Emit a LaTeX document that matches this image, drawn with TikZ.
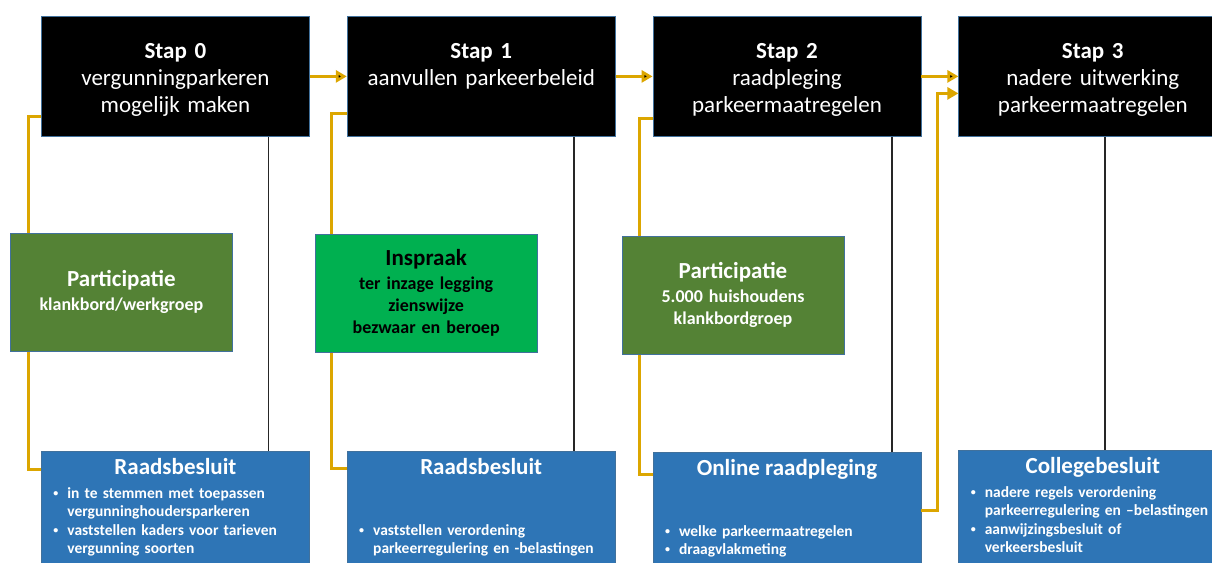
\documentclass[tikz,border=0pt]{standalone}
\usepackage{fontspec}
\setmainfont{Carlito}
\usetikzlibrary{positioning,arrows.meta}

\definecolor{goud}{HTML}{DCA600}
\definecolor{rand}{HTML}{41719C}
\definecolor{olijf}{HTML}{548235}
\definecolor{groen}{HTML}{00B050}
\definecolor{blauw}{HTML}{2E75B6}

\newcommand{\kop}[1]{{\centering\fontsize{11.5}{13.8}\selectfont #1\par}\vspace{2.8pt}}
\newcommand{\punt}{\par\hspace*{6pt}\makebox[7pt][l]{\raisebox{0.9pt}{\fontsize{5}{5}\selectfont •}}}
\newcommand{\verder}{\par\hspace*{13pt}}

\begin{document}
\begin{tikzpicture}[x=0.5pt, y=-0.5pt, node distance=18.5pt]
\tikzstyle{stap}=[rectangle, draw=rand, line width=0.4pt, fill=black, text=white, text width=134pt, inner sep=0pt, align=center, text height=21pt, text depth=39pt, font=\fontsize{11.5}{13.5}\selectfont]
\tikzstyle{deel}=[rectangle, draw=rand, line width=0.4pt, fill=olijf, text=white, text width=111pt, minimum height=59pt, inner sep=0pt, align=center, font=\fontsize{9}{11}\selectfont\bfseries]
\tikzstyle{besluit}=[rectangle, draw=rand, line width=0.4pt, fill=blauw, text=white, text width=134pt, inner sep=0pt, align=left, text height=11.5pt, text depth=80pt, font=\fontsize{7.75}{9.2}\selectfont\bfseries]
\tikzstyle{pijl}=[draw=goud, line width=1.5pt, -{Triangle[length=5.5pt,width=6pt]}]
\tikzstyle{lijn}=[draw=goud, line width=1.5pt]
\tikzstyle{zwart}=[draw=black!85, line width=0.8pt]
\useasboundingbox (0,0) rectangle (1212,563);
\clip (0,0) rectangle (1212,563);
   \node[stap, anchor=north west](s0) at (41,16){\textbf{Stap 0}\\vergunningparkeren\\mogelijk maken};
   \node[stap](s1)[right=of s0]{\textbf{Stap 1}\\aanvullen parkeerbeleid};
   \node[stap](s2)[right=of s1]{\textbf{Stap 2}\\raadpleging\\parkeermaatregelen};
   \node[stap](s3)[right=of s2]{\textbf{Stap 3}\\nadere uitwerking\\parkeermaatregelen};
\node[deel](p0)[below right=48pt and -15.5pt of s0.south west]{{\fontsize{11.5}{13}\selectfont Participatie}\\[1pt]klankbord/werkgroep};
\node[deel, fill=groen, text=black](i1)[below right=48.5pt and -16pt of s1.south west]{{\fontsize{11.5}{13}\selectfont Inspraak}\\[1pt]ter inzage legging\\zienswijze\\bezwaar en beroep};
\node[deel](p2)[below right=49.5pt and -15.5pt of s2.south west]{{\fontsize{11.5}{13}\selectfont Participatie}\\[1pt]5.000 huishoudens\\klankbordgroep};
\node[besluit](r0)[below=157pt of s0]{\kop{Raadsbesluit}\punt in te stemmen met toepassen\verder vergunninghoudersparkeren\punt vaststellen kaders voor tarieven\verder vergunning soorten};
\node[besluit](r1)[below=157pt of s1]{\kop{Raadsbesluit}\vspace{18.5pt}\punt vaststellen verordening\verder parkeerregulering en -belastingen};
\node[besluit](o2)[below=157.5pt of s2]{\kop{Online raadpleging}\vspace{18.5pt}\punt welke parkeermaatregelen\punt draagvlakmeting};
\node[besluit](c3)[below=156.5pt of s3]{\kop{Collegebesluit}\punt nadere regels verordening\verder parkeerregulering en –belastingen\punt aanwijzingsbesluit of\verder verkeersbesluit};
   \path[pijl](s0) edge (s1);
   \path[pijl](s1) edge (s2);
   \path[pijl](s2) edge (s3);
\draw[pijl]([yshift=-29.5pt]o2.north east) -- ++(8pt,0) |- ([yshift=-8.5pt]s3.west);
\draw[lijn]([yshift=10pt]s0.south west) -| ([xshift=9pt]p0.north west);
\draw[lijn]([xshift=9pt]p0.south west) |- ([yshift=-9.5pt]r0.north west);
\draw[lijn]([yshift=11.5pt]s1.south west) -| ([xshift=8.5pt]i1.north west);
\draw[lijn]([xshift=8.5pt]i1.south west) |- ([yshift=-9pt]r1.north west);
\draw[lijn]([yshift=9pt]s2.south west) -| ([xshift=9pt]p2.north west);
\draw[lijn]([xshift=9pt]p2.south west) |- ([yshift=-11.5pt]o2.north west);
\draw[zwart]([xshift=46.5pt]s0.south) -- ([xshift=46.5pt]r0.north);
\draw[zwart]([xshift=46.5pt]s1.south) -- ([xshift=46.5pt]r1.north);
\draw[zwart]([xshift=52.5pt]s2.south) -- ([xshift=52.5pt]o2.north);
\draw[zwart]([xshift=6pt]s3.south) -- ([xshift=6pt]c3.north);
\end{tikzpicture}
\end{document}
